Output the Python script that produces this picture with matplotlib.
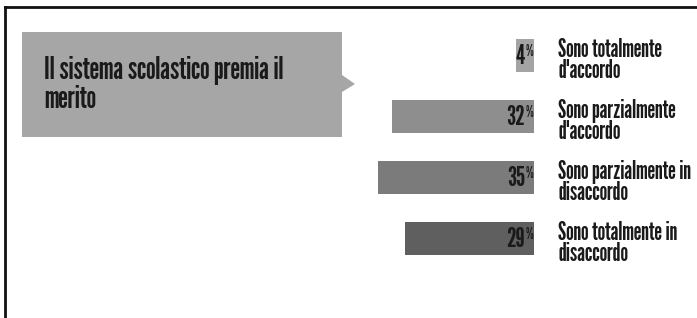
import matplotlib
matplotlib.use("Agg")
import matplotlib.pyplot as plt
from matplotlib.patches import Polygon
from matplotlib.lines import Line2D

# data
labels = ["Sono totalmente\nd'accordo", "Sono parzialmente\nd'accordo",
          "Sono parzialmente in\ndisaccordo", "Sono totalmente in\ndisaccordo"]
values = [4, 32, 35, 29]
colors = ["#a4a4a4", "#8e8e8e", "#7b7b7b", "#5f5f5f"]
title = "Il sistema scolastico premia il\nmerito"

W, H = 697, 318
FONT = ["League Gothic", "Barlow Condensed", "DejaVu Sans"]
INK = "#1a1a1a"

fig = plt.figure(figsize=(W / 100, H / 100), dpi=100)
fig.patch.set_facecolor("white")


def fx(px):
    return px / W


def fy(py):
    return 1 - py / H


# frame lines (left and top)
fig.add_artist(Line2D([fx(5), fx(5)], [fy(7), fy(H)], color="#111111", lw=2))
fig.add_artist(Line2D([fx(5), fx(W)], [fy(7), fy(7)], color="#111111", lw=2))

# title callout box
box = [(22, 32), (342, 32), (342, 75), (355, 84), (342, 92), (342, 137), (22, 137)]
fig.add_artist(Polygon([(fx(x), fy(y)) for x, y in box], closed=True,
                       facecolor="#a6a6a6", edgecolor="none"))
fig.text(fx(44), fy(108), title, ha="left", va="baseline", fontsize=22,
         fontweight="bold", family=FONT, color=INK, linespacing=1.0)

# bars: axes spans from x=0 to bar end (534 px)
ax = fig.add_axes([0, 0, fx(534), 1])
ax.set_xlim(120, 0)
pitch = 61
top = 55
ax.set_ylim((H - top) / pitch, -top / pitch)
ypos = list(range(len(values)))
ax.barh(ypos, values, height=33 / pitch, color=colors)
ax.axis("off")

for y, v, lab in zip(ypos, values, labels):
    ax.text(2.0, y + 0.15, str(v), ha="right", va="baseline", fontsize=19,
            fontweight="bold", family=FONT, color=INK)
    ax.text(1.9, y + 0.02, "%", ha="left", va="baseline", fontsize=11,
            fontweight="bold", family=FONT, color=INK)
    ax.text(-5.4, y + 0.37, lab, ha="left", va="baseline", fontsize=17.5,
            fontweight="bold", family=FONT, color=INK, linespacing=0.82,
            clip_on=False)

fig.savefig("out.png", dpi=100)
